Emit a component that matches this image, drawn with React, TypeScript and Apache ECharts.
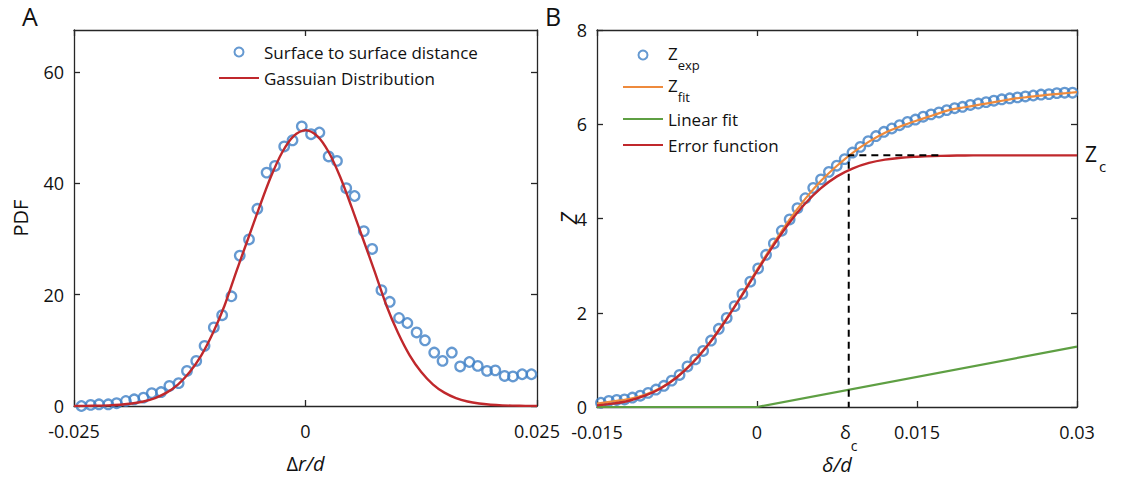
import React, { useEffect, useRef } from 'react';
import * as echarts from 'echarts';

// ---------- Panel A data ----------
const pdfX = [
  -0.0242, -0.0232, -0.0223, -0.0213, -0.0204, -0.0194, -0.0185, -0.0175, -0.0166, -0.0156,
  -0.0147, -0.0137, -0.0128, -0.0118, -0.0109, -0.0099, -0.009, -0.008, -0.0071, -0.0061,
  -0.0052, -0.0042, -0.0033, -0.0023, -0.0014, -0.0004, 0.0006, 0.0015, 0.0025, 0.0034,
  0.0044, 0.0053, 0.0063, 0.0072, 0.0082, 0.0091, 0.0101, 0.011, 0.012, 0.0129,
  0.0139, 0.0148, 0.0158, 0.0167, 0.0177, 0.0186, 0.0196, 0.0205, 0.0215, 0.0224,
  0.0234, 0.0244,
];
const pdfY = [
  0.0, 0.2, 0.3, 0.3, 0.5, 0.9, 1.2, 1.5, 2.3, 2.5,
  3.6, 4.1, 6.3, 8.1, 10.8, 14.1, 16.3, 19.7, 27.0, 29.9,
  35.4, 41.9, 43.1, 46.6, 47.7, 50.2, 48.8, 49.1, 44.8, 44.0,
  39.1, 37.7, 31.4, 28.2, 20.8, 18.7, 15.8, 14.9, 13.2, 11.8,
  9.6, 8.1, 9.6, 7.1, 7.9, 7.2, 6.3, 6.4, 5.4, 5.3,
  5.7, 5.7,
];
const gaussX = [
  -0.025, -0.02375, -0.0225, -0.02125, -0.02, -0.01875, -0.0175, -0.01625, -0.015, -0.01375,
  -0.0125, -0.01125, -0.01, -0.00875, -0.0075, -0.00625, -0.005, -0.00375, -0.0025, -0.00125,
  0, 0.00125, 0.0025, 0.00375, 0.005, 0.00625, 0.0075, 0.00875, 0.01, 0.01125,
  0.0125, 0.01375, 0.015, 0.01625, 0.0175, 0.01875, 0.02, 0.02125, 0.0225, 0.02375, 0.025,
];
const gaussY = [
  0.01, 0.03, 0.06, 0.11, 0.23, 0.44, 0.81, 1.43, 2.4, 3.9,
  6.1, 9.1, 13.1, 18.0, 24.0, 29.8, 35.6, 41.1, 45.6, 48.5,
  49.5, 48.5, 45.6, 41.1, 35.6, 29.8, 24.0, 18.0, 13.1, 9.1,
  6.1, 3.9, 2.4, 1.43, 0.81, 0.44, 0.23, 0.11, 0.06, 0.03, 0.01,
];
const ticksAX = [-0.025, 0, 0.025];
const ticksAY = [0, 20, 40, 60];

// ---------- Panel B data ----------
const zExpX = [
  -0.01463, -0.01389, -0.01315, -0.01242, -0.01168, -0.01094, -0.01021, -0.00947, -0.00873, -0.008,
  -0.00726, -0.00652, -0.00579, -0.00505, -0.00431, -0.00358, -0.00284, -0.0021, -0.00137, -0.00063,
  0.00011, 0.00085, 0.00158, 0.00232, 0.00306, 0.00379, 0.00453, 0.00527, 0.006, 0.00674,
  0.00748, 0.00822, 0.00895, 0.00969, 0.01043, 0.01116, 0.0119, 0.01264, 0.01337, 0.01411,
  0.01485, 0.01558, 0.01632, 0.01706, 0.01779, 0.01853, 0.01927, 0.02, 0.02074, 0.02148,
  0.02221, 0.02295, 0.02369, 0.02442, 0.02516, 0.0259, 0.02663, 0.02737, 0.02811, 0.02884,
  0.02958,
];
const zExpY = [
  0.09, 0.13, 0.15, 0.16, 0.2, 0.24, 0.3, 0.37, 0.45, 0.56,
  0.68, 0.86, 1.01, 1.19, 1.41, 1.66, 1.89, 2.14, 2.4, 2.66,
  2.94, 3.23, 3.47, 3.74, 3.98, 4.22, 4.43, 4.65, 4.83, 4.99,
  5.12, 5.26, 5.4, 5.52, 5.64, 5.75, 5.84, 5.91, 5.98, 6.05,
  6.1, 6.16, 6.21, 6.25, 6.3, 6.34, 6.37, 6.41, 6.44, 6.47,
  6.5, 6.53, 6.55, 6.57, 6.59, 6.61, 6.63, 6.64, 6.66, 6.67,
  6.67,
];
const fitX = [
  -0.015, -0.0135, -0.012, -0.0105, -0.009, -0.0075, -0.006, -0.0045, -0.003, -0.0015,
  0, 0.0015, 0.003, 0.0045, 0.006, 0.0075, 0.009, 0.0105, 0.012, 0.0135,
  0.015, 0.0165, 0.018, 0.0195, 0.021, 0.0225, 0.024, 0.0255, 0.027, 0.0285, 0.03,
];
const zFitY = [
  0.07, 0.12, 0.17, 0.26, 0.41, 0.64, 0.96, 1.35, 1.83, 2.35,
  2.91, 3.45, 3.96, 4.41, 4.8, 5.12, 5.4, 5.63, 5.82, 5.96,
  6.08, 6.19, 6.3, 6.36, 6.42, 6.48, 6.54, 6.58, 6.62, 6.65, 6.68,
];
const erfY = [
  0.035, 0.071, 0.132, 0.239, 0.399, 0.631, 0.944, 1.341, 1.814, 2.338,
  2.884, 3.415, 3.9, 4.314, 4.644, 4.894, 5.064, 5.179, 5.249, 5.29,
  5.31, 5.325, 5.333, 5.338, 5.34, 5.34, 5.34, 5.34, 5.34, 5.34, 5.34,
];
const linX = [-0.015, 0, 0.03];
const linY = [0, 0, 1.28];
const deltaC = 0.0086;
const zC = 5.34;
const dashEndX = 0.017;
const ticksBX = [-0.015, 0, 0.015, 0.03];
const labelsBX = [-0.015, 0, deltaC, 0.015, 0.03];
const ticksBY = [0, 2, 4, 6, 8];

// ---------- styling ----------
const FONT = 'Open Sans';
const AX = '#262626';
const TXT = '#111';
const BLUE = '#3f80c5';
const ORANGE = '#ee8a3c';
const GREEN = '#5e9f43';
const RED = '#c0282c';

const zip = (xs: number[], ys: number[]) => xs.map((x, i) => [x, ys[i]]);

const lineStyle = { color: AX, width: 1.3 };

function xAxisPair(grid: number, min: number, max: number, ticks: number[], labels: number[], name: string, nameGap: number, rich: any) {
  return [
    {
      type: 'value', gridIndex: grid, min, max, position: 'bottom',
      axisLine: { show: true, onZero: false, lineStyle },
      axisTick: { show: true, inside: true, length: 6, customValues: ticks, lineStyle },
      axisLabel: {
        show: true, customValues: labels, margin: 16, fontSize: 18, fontFamily: FONT, color: TXT,
        formatter: (v: number) => (Math.abs(v - deltaC) < 1e-9 ? '{d|δ}{c|c}' : String(v)),
        rich: {
          d: { fontSize: 18, fontFamily: FONT, color: TXT, lineHeight: 18, verticalAlign: 'top' },
          c: { fontSize: 14, fontFamily: FONT, color: TXT, padding: [15, 0, 0, 0], verticalAlign: 'top' },
        },
        showMinLabel: true, showMaxLabel: true, hideOverlap: false,
      },
      splitLine: { show: false },
      name, nameLocation: 'middle', nameGap, nameMoveOverlap: false,
      nameTextStyle: { fontSize: 20, fontFamily: FONT, color: TXT, rich },
    },
    {
      type: 'value', gridIndex: grid, min, max, position: 'top',
      axisLine: { show: true, onZero: false, lineStyle },
      axisTick: { show: true, inside: true, length: 6, customValues: ticks, lineStyle },
      axisLabel: { show: false },
      splitLine: { show: false },
    },
  ];
}

function yAxisPair(grid: number, min: number, max: number, ticks: number[], name: string, nameGap: number, rich: any) {
  return [
    {
      type: 'value', gridIndex: grid, min, max, position: 'left',
      axisLine: { show: true, onZero: false, lineStyle },
      axisTick: { show: true, inside: true, length: 6, customValues: ticks, lineStyle },
      axisLabel: { show: true, customValues: ticks, margin: 10, fontSize: 18, fontFamily: FONT, color: TXT },
      splitLine: { show: false },
      name, nameLocation: 'middle', nameGap, nameMoveOverlap: false,
      nameTextStyle: { fontSize: 20, fontFamily: FONT, color: TXT, rich },
    },
    {
      type: 'value', gridIndex: grid, min, max, position: 'right',
      axisLine: { show: true, onZero: false, lineStyle },
      axisTick: { show: true, inside: true, length: 6, customValues: ticks, lineStyle },
      axisLabel: { show: false },
      splitLine: { show: false },
    },
  ];
}

const subRich = {
  z: { fontSize: 17, fontFamily: FONT, color: TXT, lineHeight: 20, verticalAlign: 'top' },
  s: { fontSize: 13, fontFamily: FONT, color: TXT, padding: [13, 0, 0, 0], verticalAlign: 'top' },
};

const legendNamesB: Record<string, string> = {
  Zexp: '{z|Z}{s|exp}',
  Zfit: '{z|Z}{s|fit}',
  'Linear fit': 'Linear fit',
  'Error function': 'Error function',
};

const noSymbol = { opacity: 0 };

const option: any = {
  animation: false,
  backgroundColor: '#fff',
  grid: [
    { left: 74, top: 30, width: 463, height: 376 },
    { left: 597, top: 30, width: 480, height: 377 },
  ],
  xAxis: [
    ...xAxisPair(0, -0.025, 0.025, ticksAX, ticksAX, '{n|Δ}{i|r/d}', 47, {
      n: { fontSize: 20, fontFamily: FONT, color: TXT },
      i: { fontSize: 20, fontFamily: FONT, color: TXT, fontStyle: 'italic' },
    }),
    ...xAxisPair(1, -0.015, 0.03, ticksBX, labelsBX, '{i|δ/d}', 47, {
      i: { fontSize: 20, fontFamily: FONT, color: TXT, fontStyle: 'italic' },
    }),
  ],
  yAxis: [
    ...yAxisPair(0, 0, 67.5, ticksAY, 'PDF', 44, {}),
    ...yAxisPair(1, 0, 8, ticksBY, '{i|Z}', 18, {
      i: { fontSize: 22, fontFamily: FONT, color: TXT, fontStyle: 'italic' },
    }),
  ],
  legend: [
    {
      data: [
        { name: 'Surface to surface distance' },
        { name: 'Gassuian Distribution', itemStyle: noSymbol },
      ],
      orient: 'vertical', left: 218, top: 42, padding: 0, itemWidth: 40, itemHeight: 9, itemGap: 6,
      selectedMode: false,
      textStyle: { fontSize: 17, fontFamily: FONT, color: TXT, lineHeight: 20 },
    },
    {
      data: [
        { name: 'Zexp' },
        { name: 'Zfit', itemStyle: noSymbol },
        { name: 'Linear fit', itemStyle: noSymbol },
        { name: 'Error function', itemStyle: noSymbol },
      ],
      orient: 'vertical', left: 622, top: 45, padding: 0, itemWidth: 40, itemHeight: 9, itemGap: 6,
      selectedMode: false,
      formatter: (n: string) => legendNamesB[n] || n,
      textStyle: { fontSize: 17, fontFamily: FONT, color: TXT, lineHeight: 20, rich: subRich },
    },
  ],
  graphic: [
    { type: 'text', left: 22, top: 3, style: { text: 'A', fontSize: 25, fontFamily: FONT, fill: TXT } },
    { type: 'text', left: 545, top: 3, style: { text: 'B', fontSize: 25, fontFamily: FONT, fill: TXT } },
  ],
  series: [
    {
      name: 'Surface to surface distance', type: 'scatter', xAxisIndex: 0, yAxisIndex: 0,
      data: zip(pdfX, pdfY), symbol: 'circle', symbolSize: 9.5,
      itemStyle: { color: 'rgba(255,255,255,0)', borderColor: BLUE, borderWidth: 2.3 },
    },
    {
      name: 'Gassuian Distribution', type: 'line', xAxisIndex: 0, yAxisIndex: 0,
      data: zip(gaussX, gaussY), symbol: 'none', smooth: 0.3,
      lineStyle: { color: RED, width: 2.4 }, itemStyle: { color: RED },
    },
    {
      name: 'Zexp', type: 'scatter', xAxisIndex: 2, yAxisIndex: 2,
      data: zip(zExpX, zExpY), symbol: 'circle', symbolSize: 9.5,
      itemStyle: { color: 'rgba(255,255,255,0)', borderColor: BLUE, borderWidth: 2.3 },
    },
    {
      name: 'Zfit', type: 'line', xAxisIndex: 2, yAxisIndex: 2,
      data: zip(fitX, zFitY), symbol: 'none', smooth: 0.3,
      lineStyle: { color: ORANGE, width: 2.2 }, itemStyle: { color: ORANGE },
    },
    {
      name: 'Linear fit', type: 'line', xAxisIndex: 2, yAxisIndex: 2,
      data: zip(linX, linY), symbol: 'none',
      lineStyle: { color: GREEN, width: 2.2 }, itemStyle: { color: GREEN },
    },
    {
      name: 'Error function', type: 'line', xAxisIndex: 2, yAxisIndex: 2,
      data: zip(fitX, erfY), symbol: 'none', smooth: 0.3,
      lineStyle: { color: RED, width: 2.4 }, itemStyle: { color: RED },
      endLabel: {
        show: true, distance: 8, formatter: '{z|Z}{c|c}', color: TXT,
        rich: {
          z: { fontSize: 21, fontFamily: FONT, color: TXT, lineHeight: 22, verticalAlign: 'top', padding: [6, 0, 0, 0] },
          c: { fontSize: 15, fontFamily: FONT, color: TXT, padding: [21, 0, 0, 2], verticalAlign: 'top' },
        },
      },
    },
    {
      name: 'deltaC guide', type: 'line', xAxisIndex: 2, yAxisIndex: 2,
      data: [[dashEndX, zC], [deltaC, zC], [deltaC, 0]], symbol: 'none',
      lineStyle: { color: '#000', width: 2, type: [7, 5] },
    },
  ],
};

export default function App() {
  const ref = useRef<HTMLDivElement>(null);
  useEffect(() => {
    document.body.style.margin = '0';
    const chart = echarts.init(ref.current!, null, { renderer: 'svg' });
    chart.setOption(option);
    return () => chart.dispose();
  }, []);
  return <div ref={ref} style={{ width: 1123, height: 479, background: '#fff' }} />;
}
